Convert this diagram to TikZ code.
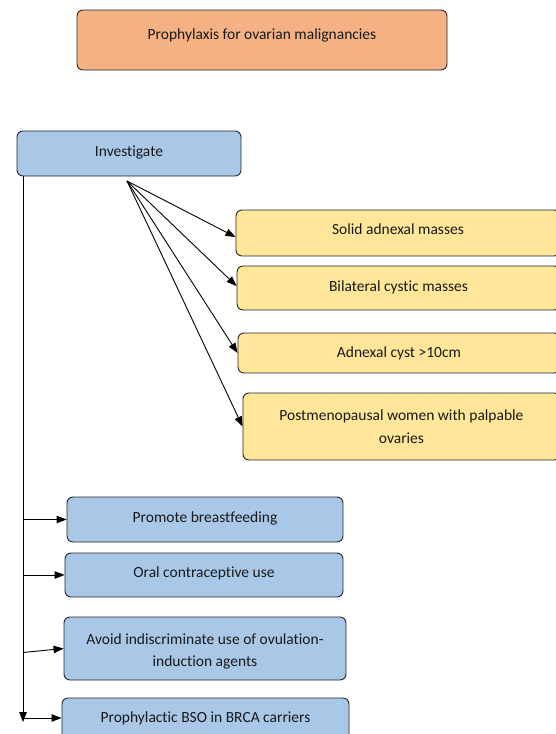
\documentclass[tikz,border=0pt]{standalone}
\usepackage{fontspec}
\setmainfont{Carlito}[Ligatures=NoCommon]
\usetikzlibrary{arrows.meta,calc}
\definecolor{orangebox}{HTML}{F4B183}
\definecolor{bluebox}{HTML}{A9C8E8}
\definecolor{yellowbox}{HTML}{FFE699}
\newcommand{\upby}[2]{\raisebox{#1}[\height][\depth]{#2}}
\tikzset{
  txt/.style={font=\fontsize{15.5}{22.5}\selectfont, align=center, text=black!90},
  box/.style={draw=black!85, line width=0.9pt, rounded corners=6pt, txt, inner sep=0pt},
  obox/.style={box, fill=orangebox},
  bbox/.style={box, fill=bluebox},
  ybox/.style={box, fill=yellowbox},
  arr/.style={line width=0.9pt, -{Triangle[length=10pt,width=7.5pt]}},
}
\begin{document}
\begin{tikzpicture}[x=1pt,y=-1pt]
\useasboundingbox (0,0) rectangle (556,734);
\clip (0,0) rectangle (556,734);
\node[obox, minimum width=370pt, minimum height=60pt] (title) at (262,40) {\upby{5pt}{Prophylaxis for ovarian malignancies}};
\node[bbox, minimum width=224pt, minimum height=45pt] (inv) at (129,153.5) {\upby{1pt}{Investigate}};
\node[ybox, minimum width=324pt, minimum height=46pt] (sam) at (398,233) {\upby{4pt}{Solid adnexal masses}};
\node[ybox, minimum width=323pt, minimum height=44pt] (bcm) at (398.5,288) {\upby{1pt}{Bilateral cystic masses}};
\node[ybox, minimum width=322pt, minimum height=40pt] (acy) at (399,353) {Adnexal cyst >10cm};
\node[ybox, minimum width=317pt, minimum height=67pt] (pmw) at (401.5,426.5) {Postmenopausal women with palpable\\ovaries};
\node[bbox, minimum width=276pt, minimum height=45pt] (pbf) at (205,519.5) {\upby{1.5pt}{Promote breastfeeding}};
\node[bbox, minimum width=278pt, minimum height=44pt] (ocu) at (204,575) {\upby{2pt}{Oral contraceptive use}};
\node[bbox, minimum width=282pt, minimum height=63pt] (avd) at (205,648.5) {};
\node[txt] (avdt) at (205,651.5) {Avoid indiscriminate use of ovulation-\\induction agents};
\node[bbox, minimum width=287pt, minimum height=47pt] (bso) at (205.5,721.5) {};
\node[txt] (bsot) at (205.5,718) {Prophylactic BSO in BRCA carriers};
\coordinate (src) at (127,181);
\draw[arr] (src) -- ([yshift=-4pt]sam.west);
\draw[arr] (src) -- ([yshift=2pt]bcm.west);
\draw[arr] (src) -- (acy.west);
\draw[arr] (src) -- (pmw.west);
\coordinate (t0) at (23,176);
\coordinate (t1) at (23,722);
\draw[arr] (t0) -- (t1);
\draw[arr] (pbf.west -| t0) -- (pbf.west);
\draw[arr] (ocu.west -| t0) -- (ocu.west);
\draw[arr] ([yshift=-4pt]avd.west -| t0) -- (avd.west);
\draw[arr] (bsot.west -| t0) -- (bsot.west -| bso.west);
\end{tikzpicture}
\end{document}
